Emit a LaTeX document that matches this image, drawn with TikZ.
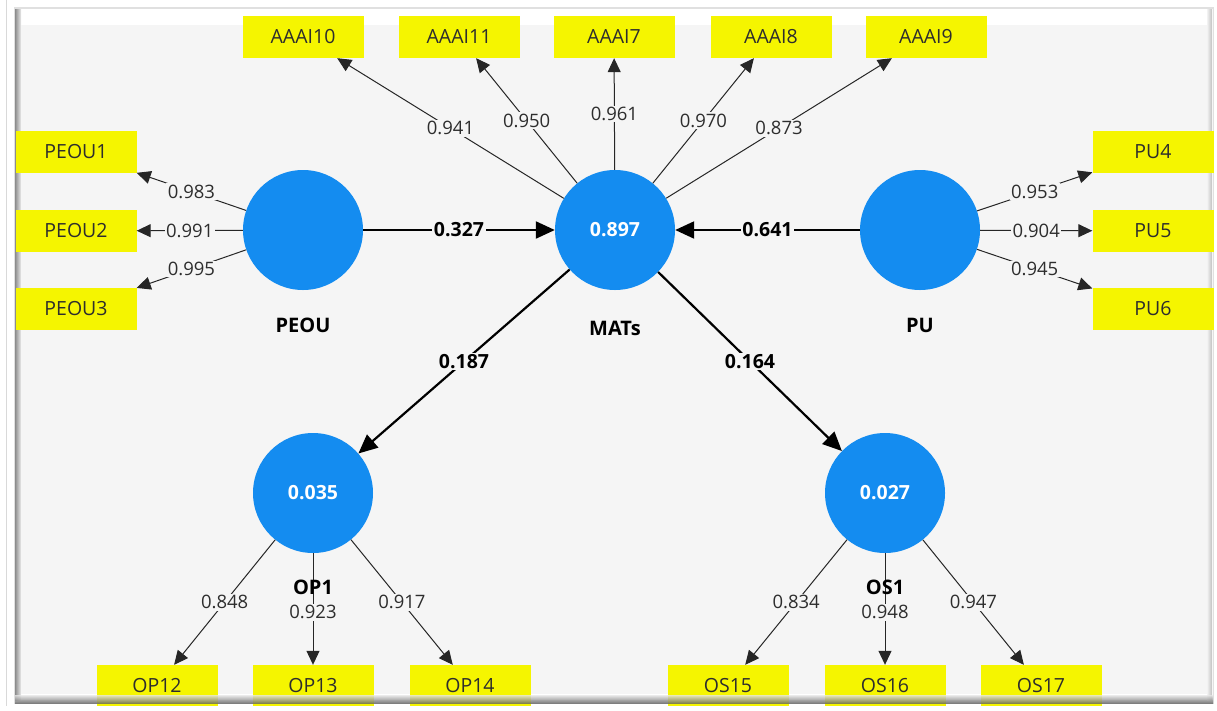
\documentclass[tikz,border=0pt]{standalone}
\usepackage{fontspec}
\setmainfont{Open Sans}
\usetikzlibrary{arrows.meta}
\definecolor{panelbg}{RGB}{245,245,245}
\definecolor{lvblue}{RGB}{20,140,240}
\definecolor{mvyellow}{RGB}{245,245,0}
\definecolor{txtdark}{RGB}{45,45,45}
\begin{document}
\begin{tikzpicture}[x=1pt,y=-1pt,
  latent/.style={circle,fill=lvblue,minimum size=120pt,inner sep=0pt,text=white,font=\fontsize{19.5}{22}\selectfont\bfseries},
  mvbox/.style={rectangle,fill=mvyellow,minimum width=121pt,minimum height=42pt,inner sep=0pt,text=txtdark,font=\fontsize{19.5}{22}\selectfont},
  lvname/.style={font=\fontsize{20}{22}\selectfont\bfseries,text=black},
  loading/.style={draw=black!85,line width=1pt,-{Triangle[length=14pt,width=13pt]}},
  strpath/.style={draw=black,line width=2.2pt,-{Triangle[length=19pt,width=17pt]}},
  lload/.style={fill=panelbg,inner sep=1.5pt,text=txtdark,font=\fontsize{18.5}{20}\selectfont},
  lpath/.style={fill=panelbg,inner sep=1.5pt,text=black,font=\fontsize{19.5}{22}\selectfont\bfseries},
]
\useasboundingbox (0,0) rectangle (1217,710);
\fill[white] (0,0) rectangle (1217,710);
\draw[black!15,line width=1pt] (6,0) -- (6,710);
% frame
\fill[black!12] (14,7) rectangle (1214,704);
\fill[white] (15,9) rectangle (1213,700);
\shade[left color=black!45,right color=black!8] (15,9) rectangle (21,700);
\shade[left color=black!5,right color=black!25] (1207,9) rectangle (1212,700);
\fill[panelbg] (21,25) rectangle (1207,694);

% latent variables
\node[latent] (peou) at (303,230) {};
\node[latent] (mats) at (615,230) {0.897};
\node[latent] (pu) at (920,230) {};
\node[latent] (op1) at (313,493) {0.035};
\node[latent] (os1) at (885,493) {0.027};

% indicators
\node[mvbox] (a10) at (303,37) {AAAI10};
\node[mvbox] (a11) at (459,37) {AAAI11};
\node[mvbox] (a7) at (614,37) {AAAI7};
\node[mvbox] (a8) at (771,37) {AAAI8};
\node[mvbox] (a9) at (926,37) {AAAI9};
\node[mvbox] (peou1) at (76,152) {PEOU1};
\node[mvbox] (peou2) at (76,231) {PEOU2};
\node[mvbox] (peou3) at (76,309) {PEOU3};
\node[mvbox] (pu4) at (1153,152) {PU4};
\node[mvbox] (pu5) at (1153,231) {PU5};
\node[mvbox] (pu6) at (1153,309) {PU6};
\node[mvbox] (op12) at (157,686) {OP12};
\node[mvbox] (op13) at (313,686) {OP13};
\node[mvbox] (op14) at (470,686) {OP14};
\node[mvbox] (os15) at (728,686) {OS15};
\node[mvbox] (os16) at (885,686) {OS16};
\node[mvbox] (os17) at (1041,686) {OS17};

% loadings
\draw[loading] (peou) -- node[lload]{0.983} (peou1);
\draw[loading] (peou) -- node[lload]{0.991} (peou2);
\draw[loading] (peou) -- node[lload]{0.995} (peou3);
\draw[loading] (pu) -- node[lload]{0.953} (pu4);
\draw[loading] (pu) -- node[lload]{0.904} (pu5);
\draw[loading] (pu) -- node[lload]{0.945} (pu6);
\draw[loading] (mats) -- node[lload]{0.941} (a10);
\draw[loading] (mats) -- node[lload]{0.950} (a11);
\draw[loading] (mats) -- node[lload]{0.961} (a7);
\draw[loading] (mats) -- node[lload]{0.970} (a8);
\draw[loading] (mats) -- node[lload]{0.873} (a9);
\draw[loading] (op1) -- node[lload]{0.848} (op12);
\draw[loading] (op1) -- node[lload,pos=0.53]{0.923} (op13);
\draw[loading] (op1) -- node[lload]{0.917} (op14);
\draw[loading] (os1) -- node[lload]{0.834} (os15);
\draw[loading] (os1) -- node[lload,pos=0.53]{0.948} (os16);
\draw[loading] (os1) -- node[lload]{0.947} (os17);

% structural paths
\draw[strpath] (peou) -- node[lpath]{0.327} (mats);
\draw[strpath] (pu) -- node[lpath]{0.641} (mats);
\draw[strpath] (mats) -- node[lpath]{0.187} (op1);
\draw[strpath] (mats) -- node[lpath]{0.164} (os1);

% latent names
\node[lvname] (npeou) at (303,325) {PEOU};
\node[lvname] (nmats) at (615,328) {MATs};
\node[lvname] (npu) at (920,325) {PU};
\node[lvname] (nop1) at (313,587) {OP1};
\node[lvname] (nos1) at (885,587) {OS1};

% bottom shadow of frame
\shade[top color=black!10,bottom color=black!60,opacity=0.8] (15,695) rectangle (1213,703);
\fill[white] (0,706) rectangle (1217,710);
\end{tikzpicture}
\end{document}
